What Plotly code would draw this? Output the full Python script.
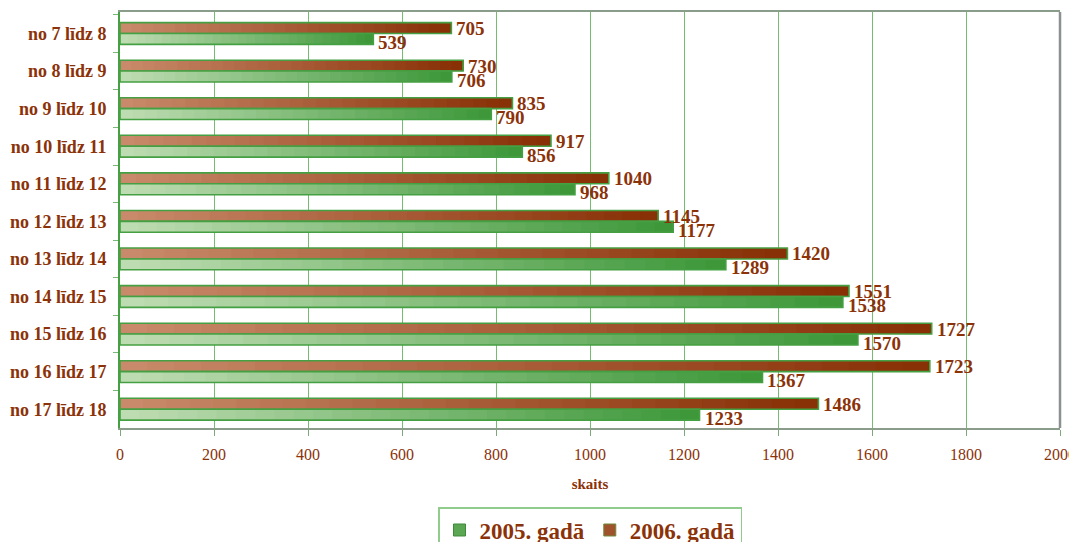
import plotly.graph_objects as go

categories = ["no 7 līdz 8", "no 8 līdz 9", "no 9 līdz 10", "no 10 līdz 11", "no 11 līdz 12",
              "no 12 līdz 13", "no 13 līdz 14", "no 14 līdz 15", "no 15 līdz 16", "no 16 līdz 17",
              "no 17 līdz 18"]
values_2005 = [539, 706, 790, 856, 968, 1177, 1289, 1538, 1570, 1367, 1233]
values_2006 = [705, 730, 835, 917, 1040, 1145, 1420, 1551, 1727, 1723, 1486]
series_names = ["2005. gadā", "2006. gadā"]
x_ticks = list(range(0, 2001, 200))

TXT = "#8B3208"
FONT = "Liberation Serif"
N = 30


def lerp(c1, c2, t):
    return "rgb(%d,%d,%d)" % tuple(round(a + (b - a) * t) for a, b in zip(c1, c2))


green_light, green_dark = (190, 220, 178), (62, 152, 58)
brown_light, brown_dark = (200, 138, 106), (136, 48, 6)

fig = go.Figure()

specs = [
    (values_2006, brown_light, brown_dark, -0.29),
    (values_2005, green_light, green_dark, 0.0),
]
for vals, c1, c2, off in specs:
    for k in range(N):
        fig.add_trace(go.Bar(
            y=categories, x=[v * (N - k) / N for v in vals], base=[v * k / N for v in vals],
            orientation="h", width=0.29, offset=off,
            marker=dict(color=lerp(c1, c2, k / (N - 1)), line=dict(width=0)),
            showlegend=False, hoverinfo="skip",
        ))
    fig.add_trace(go.Bar(
        y=categories, x=vals, orientation="h", width=0.29, offset=off,
        marker=dict(color="rgba(0,0,0,0)", line=dict(color="#45a043", width=1.6)),
        showlegend=False, hoverinfo="skip",
    ))

annotations = []
for vals, ysh in [(values_2006, 5), (values_2005, -9)]:
    for c, v in zip(categories, vals):
        annotations.append(dict(
            x=v, y=c, xref="x", yref="y", text=str(v), showarrow=False,
            xanchor="left", yanchor="middle", xshift=3, yshift=ysh,
            font=dict(family=FONT, size=19, color=TXT, weight="bold"),
        ))

# legend entries
fig.add_trace(go.Bar(y=[categories[0]], x=[None], orientation="h", name=series_names[0],
                     marker=dict(color="#5ba652", line=dict(color="#3f8a3a", width=1))))
fig.add_trace(go.Bar(y=[categories[0]], x=[None], orientation="h", name=series_names[1],
                     marker=dict(color="#a0522d", line=dict(color="#6d8a3a", width=1))))

fig.update_layout(
    barmode="overlay",
    width=1069, height=534,
    margin=dict(l=112, r=17, t=4, b=114, autoexpand=False),
    plot_bgcolor="white", paper_bgcolor="white",
    font=dict(family=FONT, color=TXT),
    legend=dict(orientation="h", x=0.5, xanchor="center", y=-0.19, yanchor="top",
                font=dict(family=FONT, size=23, color=TXT, weight="bold"),
                bordercolor="#90cc8c", borderwidth=1.5, bgcolor="white",
                traceorder="normal", itemwidth=30, tracegroupgap=0),
    xaxis=dict(range=[0, 2000], tickvals=x_ticks, ticktext=[str(t) for t in x_ticks],
               showgrid=True, gridcolor="#74bc70", gridwidth=1.2,
               showline=True, linecolor="#8a9c8a", linewidth=1.5, mirror=True,
               ticks="outside", ticklen=6, tickcolor="#7aaa7a", ticklabelstandoff=5,
               ticklabeloverflow="allow",
               tickfont=dict(family=FONT, size=16, color=TXT),
               title=dict(text="skaits", font=dict(family=FONT, size=15, color=TXT, weight="bold"),
                          standoff=17),
               zeroline=False, fixedrange=True, automargin=False),
    yaxis=dict(autorange="reversed", type="category",
               showline=True, linecolor="#45a043", linewidth=2,
               ticks="outside", ticklen=5, tickcolor="#7ab878", tickson="boundaries",
               ticklabelstandoff=8,
               tickfont=dict(family=FONT, size=18, color=TXT, weight="bold"),
               showgrid=False, fixedrange=True, automargin=False),
    shapes=[dict(type="line", xref="paper", yref="paper", x0=1, x1=1, y0=0, y1=1,
                 line=dict(color="#8c9090", width=2.5))],
    annotations=annotations,
)

fig.write_html("out.html")
